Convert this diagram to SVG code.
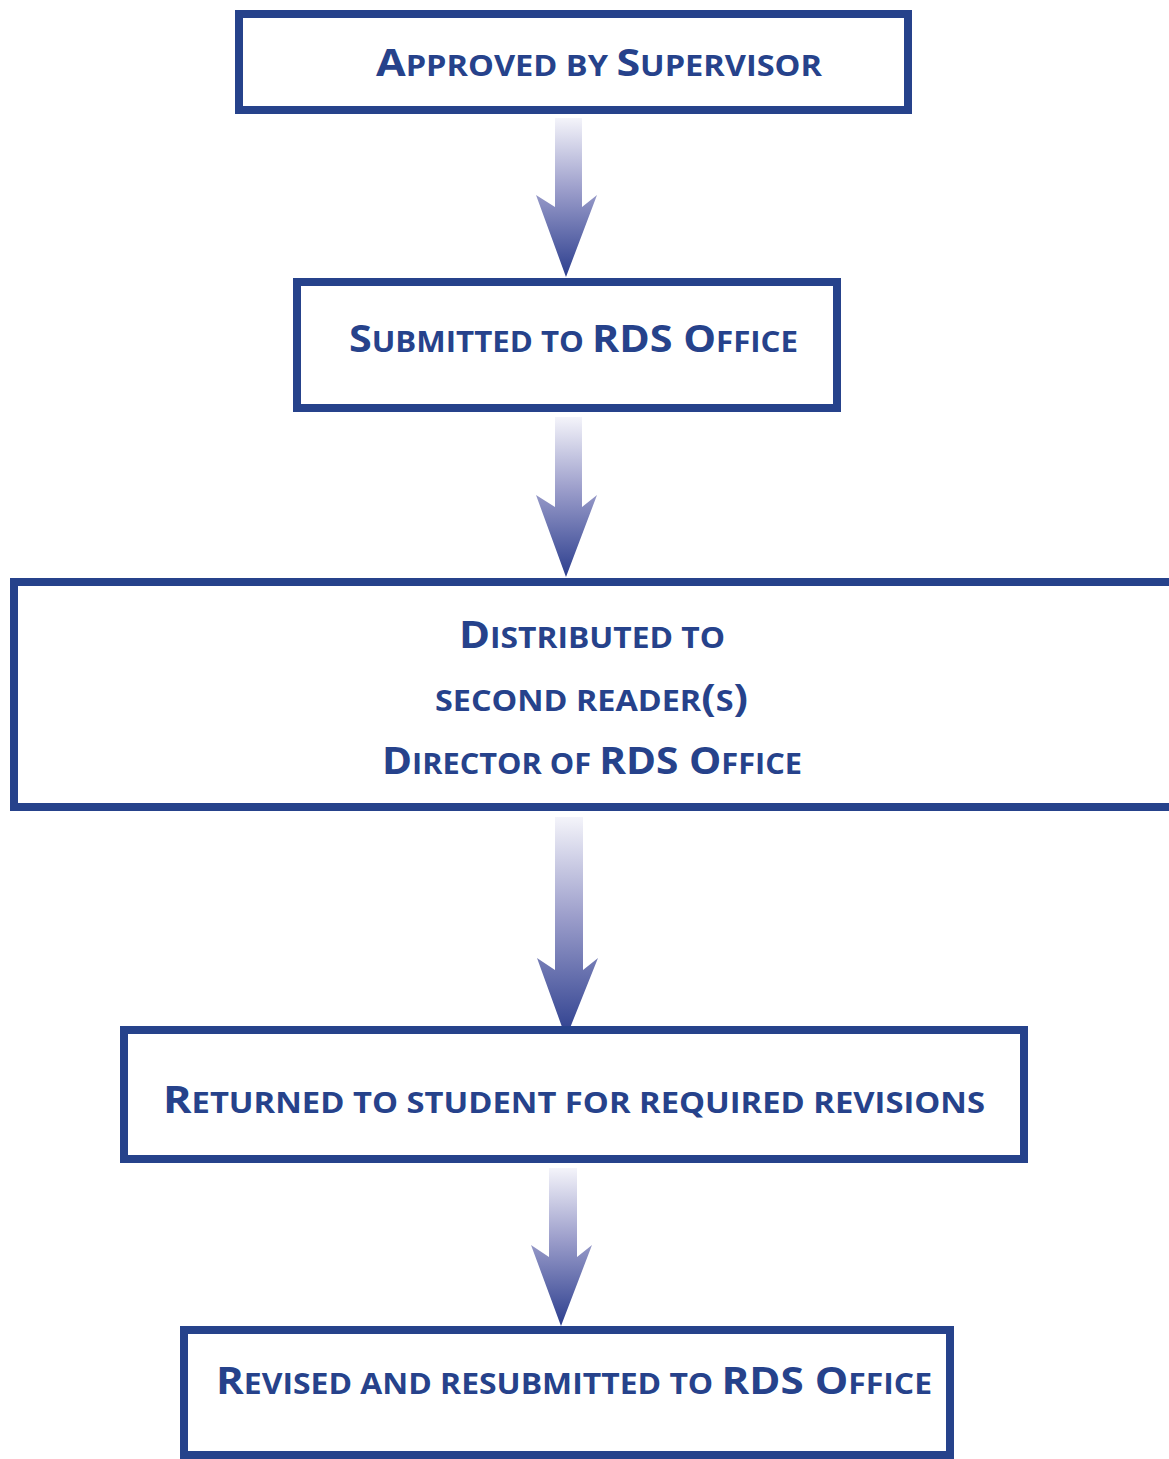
<svg xmlns="http://www.w3.org/2000/svg" width="1169" height="1459" viewBox="0 0 1169 1459">
<defs>
<linearGradient id="g" x1="0" y1="0" x2="0" y2="1">
<stop offset="0" stop-color="#f4f4fa"/>
<stop offset="0.45" stop-color="#9c9ecb"/>
<stop offset="1" stop-color="#2c3e8e"/>
</linearGradient>
<style>
.box{fill:#fff;stroke:#26428b;stroke-width:8}
.t{font-family:"Open Sans","Liberation Sans",sans-serif;font-weight:700;fill:#26428b;font-size:28px}
.c{font-size:37px}
.arr{fill:url(#g)}
</style>
</defs>
<rect width="1169" height="1459" fill="#fff"/>
<g id="connectors">
<path class="arr" d="M555,118 H582 V207 L597,195 L566,277 L536,195 L555,207 Z"/>
<path class="arr" d="M555,417 H582 V507 L597,495 L566,577 L536,495 L555,507 Z"/>
<path class="arr" d="M555,817 H583 V970 L598,958 L566,1038 L537,958 L555,970 Z"/>
<path class="arr" d="M549,1168 H577 V1257 L592,1245 L561,1326 L531,1245 L549,1257 Z"/>
</g>
<g id="n1">
<rect class="box" x="239" y="14" width="669" height="96"/>
<text class="t" x="376" y="76" textLength="446" lengthAdjust="spacingAndGlyphs"><tspan class="c">A</tspan>PPROVED BY <tspan class="c">S</tspan>UPERVISOR</text>
</g>
<g id="n2">
<rect class="box" x="297" y="282" width="540" height="126"/>
<text class="t" x="349" y="352" textLength="449" lengthAdjust="spacingAndGlyphs"><tspan class="c">S</tspan>UBMITTED TO <tspan class="c">RDS O</tspan>FFICE</text>
</g>
<g id="n3">
<rect class="box" x="14" y="582" width="1160" height="225"/>
<text class="t" x="459" y="648" textLength="266" lengthAdjust="spacingAndGlyphs"><tspan class="c">D</tspan>ISTRIBUTED TO</text>
<text class="t" x="435" y="711" textLength="313" lengthAdjust="spacingAndGlyphs">SECOND READER<tspan class="c">(</tspan>S<tspan class="c">)</tspan></text>
<text class="t" x="382" y="774" textLength="420" lengthAdjust="spacingAndGlyphs"><tspan class="c">D</tspan>IRECTOR OF <tspan class="c">RDS O</tspan>FFICE</text>
</g>
<g id="n4">
<rect class="box" x="124" y="1030" width="900" height="129"/>
<text class="t" x="163" y="1113" textLength="822" lengthAdjust="spacingAndGlyphs"><tspan class="c">R</tspan>ETURNED TO STUDENT FOR REQUIRED REVISIONS</text>
</g>
<g id="n5">
<rect class="box" x="184" y="1330" width="766" height="125"/>
<text class="t" x="216" y="1394" textLength="716" lengthAdjust="spacingAndGlyphs"><tspan class="c">R</tspan>EVISED AND RESUBMITTED TO <tspan class="c">RDS O</tspan>FFICE</text>
</g>
</svg>
